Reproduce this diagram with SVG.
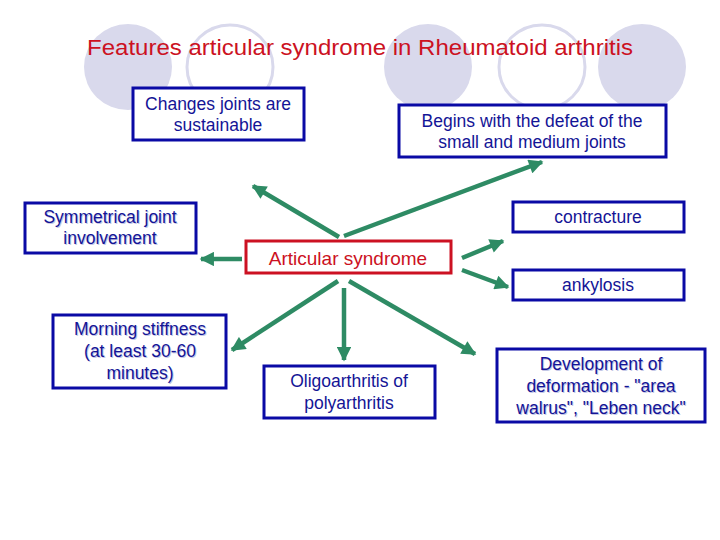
<svg xmlns="http://www.w3.org/2000/svg" width="720" height="540" viewBox="0 0 720 540">
<defs>
<style>
.bg-f{fill:#d9d9ec}
.bg-o{fill:none;stroke:#d9d9ec;stroke-width:3}
.box{fill:#ffffff;stroke:#0a0aa5;stroke-width:3}
.t{font-family:"Liberation Sans",Arial,sans-serif;font-size:17.5px;fill:#141496;text-anchor:middle}
.sh{font-family:"Liberation Sans",Arial,sans-serif;font-size:17.5px;fill:#c4c7e6;text-anchor:middle}
.arrow{stroke:#2e8b64;stroke-width:4.5;fill:none;marker-end:url(#ah)}
</style>
<marker id="ah" viewBox="0 0 10 10" refX="9" refY="5" markerWidth="3.6" markerHeight="3.2" orient="auto" markerUnits="strokeWidth">
<path d="M0,0 L10,5 L0,10 Z" fill="#2e8b64"/>
</marker>
</defs>
<rect width="720" height="540" fill="#ffffff"/>
<g id="background">
<ellipse class="bg-f" cx="128" cy="67" rx="44" ry="43"/>
<ellipse class="bg-o" cx="230" cy="67" rx="43" ry="42"/>
<ellipse class="bg-f" cx="428" cy="67" rx="44" ry="43"/>
<ellipse class="bg-o" cx="542" cy="67" rx="43" ry="42"/>
<ellipse class="bg-f" cx="642" cy="67" rx="44" ry="43"/>
</g>
<g id="title">
<text x="360" y="55" font-family="Liberation Sans,Arial,sans-serif" font-size="22" fill="#cc1122" text-anchor="middle" textLength="546" lengthAdjust="spacingAndGlyphs">Features articular syndrome in Rheumatoid arthritis</text>
</g>
<g id="connectors">
<line class="arrow" x1="339" y1="237" x2="253" y2="186"/>
<line class="arrow" x1="344" y1="236" x2="542" y2="162"/>
<line class="arrow" x1="242" y1="259" x2="201" y2="259"/>
<line class="arrow" x1="462" y1="258" x2="503" y2="241"/>
<line class="arrow" x1="462" y1="270" x2="508" y2="287"/>
<line class="arrow" x1="338" y1="281" x2="232" y2="350"/>
<line class="arrow" x1="344" y1="288" x2="344" y2="360"/>
<line class="arrow" x1="349" y1="281" x2="475" y2="354"/>
</g>
<g id="node-changes">
<rect class="box" x="133" y="88" width="171" height="52"/>
<text class="t" x="218" y="110">Changes joints are</text>
<text class="t" x="218" y="131">sustainable</text>
</g>
<g id="node-begins">
<rect class="box" x="399" y="105" width="267" height="52"/>
<text class="t" x="532" y="127">Begins with the defeat of the</text>
<text class="t" x="532" y="148">small and medium joints</text>
</g>
<g id="node-symmetrical">
<rect class="box" x="25" y="203" width="171" height="50"/>
<text class="sh" x="111" y="224">Symmetrical joint</text>
<text class="sh" x="111" y="245">involvement</text>
<text class="t" x="110" y="223">Symmetrical joint</text>
<text class="t" x="110" y="244">involvement</text>
</g>
<g id="node-articular">
<rect x="246" y="241" width="205" height="32" fill="#ffffff" stroke="#cc1122" stroke-width="3"/>
<text x="348" y="265" font-family="Liberation Sans,Arial,sans-serif" font-size="19" fill="#cc1122" text-anchor="middle">Articular syndrome</text>
</g>
<g id="node-contracture">
<rect class="box" x="513" y="202" width="171" height="30"/>
<text class="t" x="598" y="223">contracture</text>
</g>
<g id="node-ankylosis">
<rect class="box" x="513" y="270" width="171" height="30"/>
<text class="t" x="598" y="291">ankylosis</text>
</g>
<g id="node-morning">
<rect class="box" x="53" y="315" width="173" height="73"/>
<text class="sh" x="141" y="336">Morning stiffness</text>
<text class="sh" x="141" y="358">(at least 30-60</text>
<text class="sh" x="141" y="380">minutes)</text>
<text class="t" x="140" y="335">Morning stiffness</text>
<text class="t" x="140" y="357">(at least 30-60</text>
<text class="t" x="140" y="379">minutes)</text>
</g>
<g id="node-oligo">
<rect class="box" x="264" y="366" width="171" height="52"/>
<text class="t" x="349" y="387">Oligoarthritis of</text>
<text class="t" x="349" y="409">polyarthritis</text>
</g>
<g id="node-development">
<rect class="box" x="497" y="349" width="208" height="73"/>
<text class="sh" x="602" y="371">Development of</text>
<text class="sh" x="602" y="393">deformation - "area</text>
<text class="sh" x="602" y="415">walrus", "Leben neck"</text>
<text class="t" x="601" y="370">Development of</text>
<text class="t" x="601" y="392">deformation - "area</text>
<text class="t" x="601" y="414">walrus", "Leben neck"</text>
</g>
</svg>
